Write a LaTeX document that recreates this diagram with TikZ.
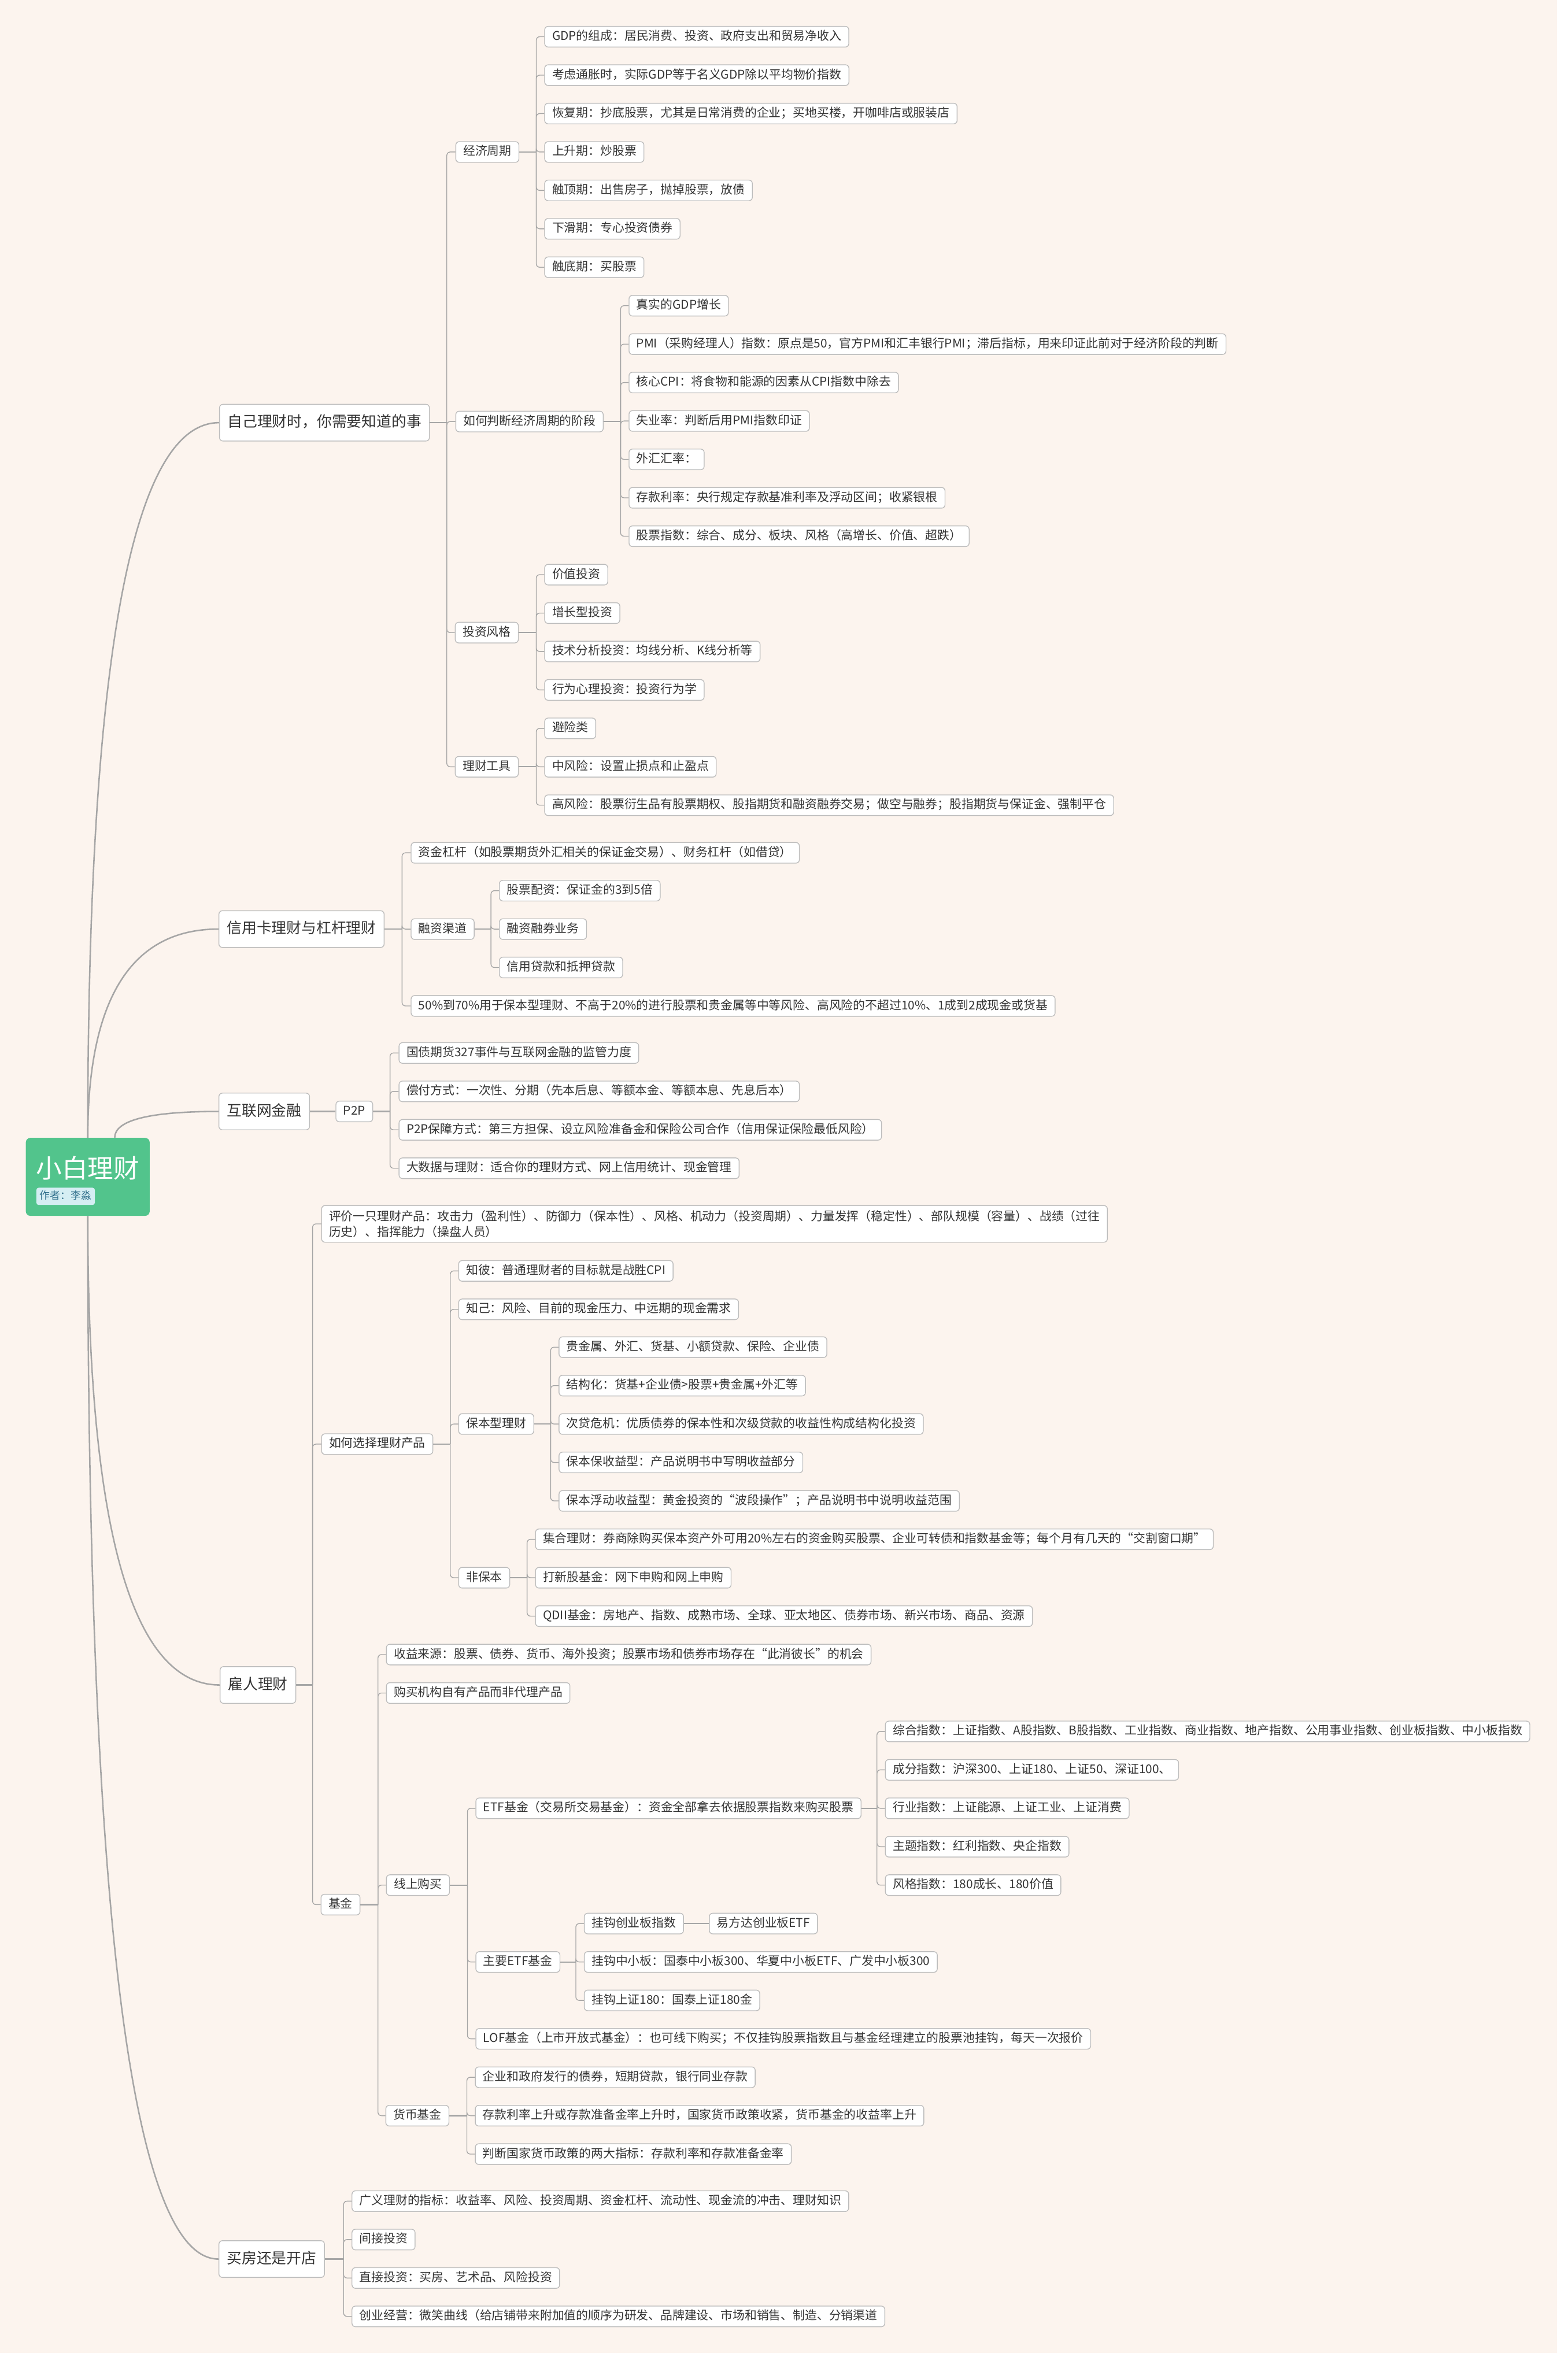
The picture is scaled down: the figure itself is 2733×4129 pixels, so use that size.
\documentclass[tikz,border=0pt]{standalone}
\usepackage{fontspec}
\setmainfont{Noto Sans CJK SC}
\usetikzlibrary{calc}
\definecolor{bgc}{HTML}{FCF4EE}
\definecolor{bordc}{HTML}{BDBDBD}
\definecolor{linec}{HTML}{A6A6A6}
\definecolor{txtc}{HTML}{343434}
\definecolor{rootc}{HTML}{52C48C}
\definecolor{authfill}{HTML}{D5EEF3}
\definecolor{authtxt}{HTML}{2F6E8A}
\tikzset{
  leaf/.style={draw=bordc, fill=white, rounded corners=3pt, line width=0.7pt,
    font=\fontsize{10.5}{12}\selectfont, text=txtc, inner xsep=6.5pt, inner ysep=0pt,
    minimum height=18pt, text height=8.3pt, text depth=2.2pt, anchor=west},
  leaftwo/.style={draw=bordc, fill=white, rounded corners=3pt, line width=0.7pt,
    font=\fontsize{10.5}{13.5}\selectfont, text=txtc, inner xsep=6.5pt, inner ysep=3pt,
    minimum height=32pt, align=left, anchor=west},
  mainbox/.style={leaf, font=\fontsize{13}{15}\selectfont, minimum height=32pt,
    inner xsep=7pt, text height=10.3pt, text depth=2.7pt},
  rootbox/.style={fill=rootc, rounded corners=4pt, minimum width=108pt, minimum height=68pt, inner sep=0pt},
  authbox/.style={fill=authfill, text=authtxt, rounded corners=2pt, font=\fontsize{9}{10}\selectfont,
    inner xsep=3pt, inner ysep=0pt, minimum height=15pt, text height=6.9pt, text depth=1.9pt, anchor=west},
  conn/.style={draw=linec, line width=0.7pt, rounded corners=3pt},
  stub/.style={draw=linec, line width=1.1pt},
  curve/.style={draw=linec, line width=1.3pt},
}
\begin{document}
\begin{tikzpicture}[x=0.5pt,y=-0.5pt]
\useasboundingbox (0,0) rectangle (2733,4129);
\fill[white] (0,0) rectangle (2733,4129);
\fill[bgc] (0,0) rectangle (2715,4103);

% root
\node[rootbox] (root) at (153,2052) {};
\node[font=\fontsize{22.5}{24}\selectfont, text=white, inner sep=0pt] (title) at (153,2037) {小白理财};
\node[authbox] (auth) at (63,2086) {作者：李淼};

% level 1
\node[mainbox] (m1) at (382,737) {自己理财时，你需要知道的事};
\node[mainbox] (m2) at (381,1620) {信用卡理财与杠杆理财};
\node[mainbox] (m3) at (381,1938) {互联网金融};
\node[mainbox] (m4) at (383,2938) {雇人理财};
\node[mainbox] (m5) at (381,3939) {买房还是开店};

\draw[curve] (root.north) .. controls (153,1152.7) and (229.3,737) .. (m1.west);
\draw[curve] (root.north) .. controls (153,1741.3) and (229,1620) .. (m2.west);
\coordinate (rn3) at ($(root.north)+(47,0)$);
\draw[curve] (rn3) .. controls (200,1953.3) and (260.3,1938) .. (m3.west);
\draw[curve] (root.south) .. controls (153,2665.3) and (229.7,2938) .. (m4.west);
\draw[curve] (root.south) .. controls (153,3332.7) and (229,3939) .. (m5.west);

% ===== m1 =====
\node[leaf] (a1) at (794,265) {经济周期};
\node[leaf] (a2) at (794,735) {如何判断经济周期的阶段};
\node[leaf] (a3) at (793,1103) {投资风格};
\node[leaf] (a4) at (793,1337) {理财工具};
\coordinate (m1s) at ($(a1.west |- m1.east)+(-15,0)$);
\draw[stub] (m1.east) -- (m1s);
\foreach \i in {1,...,4} \draw[conn] (m1s) |- (a\i.west);

\node[leaf] (a1-1) at (949,64) {GDP的组成：居民消费、投资、政府支出和贸易净收入};
\node[leaf] (a1-2) at (949,131) {考虑通胀时，实际GDP等于名义GDP除以平均物价指数};
\node[leaf] (a1-3) at (949,198) {恢复期：抄底股票，尤其是日常消费的企业；买地买楼，开咖啡店或服装店};
\node[leaf] (a1-4) at (949,265) {上升期：炒股票};
\node[leaf] (a1-5) at (949,332) {触顶期：出售房子，抛掉股票，放债};
\node[leaf] (a1-6) at (949,399) {下滑期：专心投资债券};
\node[leaf] (a1-7) at (949,466) {触底期：买股票};
\coordinate (a1s) at ($(a1-1.west |- a1.east)+(-14,0)$);
\draw[stub] (a1.east) -- (a1s);
\foreach \i in {1,...,7} \draw[conn] (a1s) |- (a1-\i.west);

\node[leaf] (a2-1) at (1096,533) {真实的GDP增长};
\node[leaf] (a2-2) at (1096,600) {PMI（采购经理人）指数：原点是50，官方PMI和汇丰银行PMI；滞后指标，用来印证此前对于经济阶段的判断};
\node[leaf] (a2-3) at (1096,667) {核心CPI：将食物和能源的因素从CPI指数中除去};
\node[leaf] (a2-4) at (1096,734) {失业率：判断后用PMI指数印证};
\node[leaf] (a2-5) at (1096,801) {外汇汇率：};
\node[leaf] (a2-6) at (1096,868) {存款利率：央行规定存款基准利率及浮动区间；收紧银根};
\node[leaf] (a2-7) at (1096,935) {股票指数：综合、成分、板块、风格（高增长、价值、超跌）};
\coordinate (a2s) at ($(a2-1.west |- a2.east)+(-14,0)$);
\draw[stub] (a2.east) -- (a2s);
\foreach \i in {1,...,7} \draw[conn] (a2s) |- (a2-\i.west);

\node[leaf] (a3-1) at (949,1002) {价值投资};
\node[leaf] (a3-2) at (949,1069) {增长型投资};
\node[leaf] (a3-3) at (949,1136) {技术分析投资：均线分析、K线分析等};
\node[leaf] (a3-4) at (949,1203) {行为心理投资：投资行为学};
\coordinate (a3s) at ($(a3-1.west |- a3.east)+(-14,0)$);
\draw[stub] (a3.east) -- (a3s);
\foreach \i in {1,...,4} \draw[conn] (a3s) |- (a3-\i.west);

\node[leaf] (a4-1) at (949,1270) {避险类};
\node[leaf] (a4-2) at (949,1337) {中风险：设置止损点和止盈点};
\node[leaf] (a4-3) at (949,1404) {高风险：股票衍生品有股票期权、股指期货和融资融券交易；做空与融券；股指期货与保证金、强制平仓};
\coordinate (a4s) at ($(a4-1.west |- a4.east)+(-14,0)$);
\draw[stub] (a4.east) -- (a4s);
\foreach \i in {1,...,3} \draw[conn] (a4s) |- (a4-\i.west);

% ===== m2 =====
\node[leaf] (b1) at (716,1487) {资金杠杆（如股票期货外汇相关的保证金交易）、财务杠杆（如借贷）};
\node[leaf] (b2) at (716,1620) {融资渠道};
\node[leaf] (b3) at (716,1754) {50\%到70\%用于保本型理财、不高于20\%的进行股票和贵金属等中等风险、高风险的不超过10\%、1成到2成现金或货基};
\coordinate (m2s) at ($(b1.west |- m2.east)+(-15,0)$);
\draw[stub] (m2.east) -- (m2s);
\foreach \i in {1,...,3} \draw[conn] (m2s) |- (b\i.west);

\node[leaf] (b2-1) at (870,1553) {股票配资：保证金的3到5倍};
\node[leaf] (b2-2) at (870,1620) {融资融券业务};
\node[leaf] (b2-3) at (870,1687) {信用贷款和抵押贷款};
\coordinate (b2s) at ($(b2-1.west |- b2.east)+(-14,0)$);
\draw[stub] (b2.east) -- (b2s);
\foreach \i in {1,...,3} \draw[conn] (b2s) |- (b2-\i.west);

% ===== m3 =====
\node[leaf] (c1) at (585,1938) {P2P};
\draw[stub] (m3.east) -- (c1.west);
\node[leaf] (c1-1) at (695,1836) {国债期货327事件与互联网金融的监管力度};
\node[leaf] (c1-2) at (695,1903) {偿付方式：一次性、分期（先本后息、等额本金、等额本息、先息后本）};
\node[leaf] (c1-3) at (695,1970) {P2P保障方式：第三方担保、设立风险准备金和保险公司合作（信用保证保险最低风险）};
\node[leaf] (c1-4) at (695,2037) {大数据与理财：适合你的理财方式、网上信用统计、现金管理};
\coordinate (c1s) at ($(c1-1.west |- c1.east)+(-15,0)$);
\draw[stub] (c1.east) -- (c1s);
\foreach \i in {1,...,4} \draw[conn] (c1s) |- (c1-\i.west);

% ===== m4 =====
\node[leaftwo] (d1) at (560,2134) {评价一只理财产品：攻击力（盈利性）、防御力（保本性）、风格、机动力（投资周期）、力量发挥（稳定性）、部队规模（容量）、战绩（过往\\历史）、指挥能力（操盘人员）};
\node[leaf] (d2) at (560,2518) {如何选择理财产品};
\node[leaf] (d3) at (559,3321) {基金};
\coordinate (m4s) at ($(d1.west |- m4.east)+(-15,0)$);
\draw[stub] (m4.east) -- (m4s);
\foreach \i in {1,...,3} \draw[conn] (m4s) |- (d\i.west);

\node[leaf] (e1) at (799,2216) {知彼：普通理财者的目标就是战胜CPI};
\node[leaf] (e2) at (799,2283) {知己：风险、目前的现金压力、中远期的现金需求};
\node[leaf] (e3) at (799,2483) {保本型理财};
\node[leaf] (e4) at (799,2751) {非保本};
\coordinate (d2s) at ($(e1.west |- d2.east)+(-14,0)$);
\draw[stub] (d2.east) -- (d2s);
\foreach \i in {1,...,4} \draw[conn] (d2s) |- (e\i.west);

\node[leaf] (e3-1) at (974,2349) {贵金属、外汇、货基、小额贷款、保险、企业债};
\node[leaf] (e3-2) at (974,2416) {结构化：货基+企业债>股票+贵金属+外汇等};
\node[leaf] (e3-3) at (974,2483) {次贷危机：优质债券的保本性和次级贷款的收益性构成结构化投资};
\node[leaf] (e3-4) at (974,2550) {保本保收益型：产品说明书中写明收益部分};
\node[leaf] (e3-5) at (974,2617) {保本浮动收益型：黄金投资的“波段操作”；产品说明书中说明收益范围};
\coordinate (e3s) at ($(e3-1.west |- e3.east)+(-14,0)$);
\draw[stub] (e3.east) -- (e3s);
\foreach \i in {1,...,5} \draw[conn] (e3s) |- (e3-\i.west);

\node[leaf] (e4-1) at (933,2684) {集合理财：券商除购买保本资产外可用20\%左右的资金购买股票、企业可转债和指数基金等；每个月有几天的“交割窗口期”};
\node[leaf] (e4-2) at (933,2751) {打新股基金：网下申购和网上申购};
\node[leaf] (e4-3) at (933,2818) {QDII基金：房地产、指数、成熟市场、全球、亚太地区、债券市场、新兴市场、商品、资源};
\coordinate (e4s) at ($(e4-1.west |- e4.east)+(-14,0)$);
\draw[stub] (e4.east) -- (e4s);
\foreach \i in {1,...,3} \draw[conn] (e4s) |- (e4-\i.west);

% 基金
\node[leaf] (f1) at (673,2885) {收益来源：股票、债券、货币、海外投资；股票市场和债券市场存在“此消彼长”的机会};
\node[leaf] (f2) at (673,2952) {购买机构自有产品而非代理产品};
\node[leaf] (f3) at (673,3287) {线上购买};
\node[leaf] (f4) at (672,3689) {货币基金};
\coordinate (d3s) at ($(f1.west |- d3.east)+(-14,0)$);
\draw[stub] (d3.east) -- (d3s);
\foreach \i in {1,...,4} \draw[conn] (d3s) |- (f\i.west);

\node[leaf] (g1) at (829,3153) {ETF基金（交易所交易基金）：资金全部拿去依据股票指数来购买股票};
\node[leaf] (g2) at (829,3421) {主要ETF基金};
\node[leaf] (g3) at (829,3555) {LOF基金（上市开放式基金）：也可线下购买；不仅挂钩股票指数且与基金经理建立的股票池挂钩，每天一次报价};
\coordinate (f3s) at ($(g1.west |- f3.east)+(-14,0)$);
\draw[stub] (f3.east) -- (f3s);
\foreach \i in {1,...,3} \draw[conn] (f3s) |- (g\i.west);

\node[leaf] (g1-1) at (1543,3019) {综合指数：上证指数、A股指数、B股指数、工业指数、商业指数、地产指数、公用事业指数、创业板指数、中小板指数};
\node[leaf] (g1-2) at (1543,3086) {成分指数：沪深300、上证180、上证50、深证100、};
\node[leaf] (g1-3) at (1543,3153) {行业指数：上证能源、上证工业、上证消费};
\node[leaf] (g1-4) at (1543,3220) {主题指数：红利指数、央企指数};
\node[leaf] (g1-5) at (1543,3287) {风格指数：180成长、180价值};
\coordinate (g1s) at ($(g1-1.west |- g1.east)+(-14,0)$);
\draw[stub] (g1.east) -- (g1s);
\foreach \i in {1,...,5} \draw[conn] (g1s) |- (g1-\i.west);

\node[leaf] (g2-1) at (1018,3354) {挂钩创业板指数};
\node[leaf] (g2-2) at (1018,3421) {挂钩中小板：国泰中小板300、华夏中小板ETF、广发中小板300};
\node[leaf] (g2-3) at (1018,3488) {挂钩上证180：国泰上证180金};
\coordinate (g2s) at ($(g2-1.west |- g2.east)+(-14,0)$);
\draw[stub] (g2.east) -- (g2s);
\foreach \i in {1,...,3} \draw[conn] (g2s) |- (g2-\i.west);

\node[leaf] (h1) at (1236,3354) {易方达创业板ETF};
\draw[stub] (g2-1.east) -- (h1.west);

\node[leaf] (f4-1) at (828,3622) {企业和政府发行的债券，短期贷款，银行同业存款};
\node[leaf] (f4-2) at (828,3689) {存款利率上升或存款准备金率上升时，国家货币政策收紧，货币基金的收益率上升};
\node[leaf] (f4-3) at (828,3756) {判断国家货币政策的两大指标：存款利率和存款准备金率};
\coordinate (f4s) at ($(f4-1.west |- f4.east)+(-14,0)$);
\draw[stub] (f4.east) -- (f4s);
\foreach \i in {1,...,3} \draw[conn] (f4s) |- (f4-\i.west);

% ===== m5 =====
\node[leaf] (k1) at (613,3838) {广义理财的指标：收益率、风险、投资周期、资金杠杆、流动性、现金流的冲击、理财知识};
\node[leaf] (k2) at (613,3905) {间接投资};
\node[leaf] (k3) at (613,3972) {直接投资：买房、艺术品、风险投资};
\node[leaf] (k4) at (613,4039) {创业经营：微笑曲线（给店铺带来附加值的顺序为研发、品牌建设、市场和销售、制造、分销渠道};
\coordinate (m5s) at ($(k1.west |- m5.east)+(-14,0)$);
\draw[stub] (m5.east) -- (m5s);
\foreach \i in {1,...,4} \draw[conn] (m5s) |- (k\i.west);
\end{tikzpicture}
\end{document}
